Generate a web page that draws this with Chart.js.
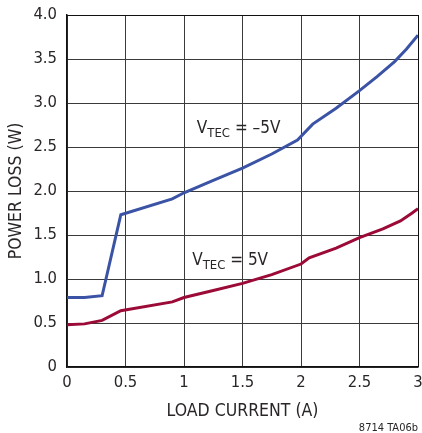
<!DOCTYPE html>
<html>
<head>
<meta charset="utf-8">
<script src="https://cdn.jsdelivr.net/npm/chart.js@4.4.1/dist/chart.umd.min.js"></script>
<style>
  html, body { margin: 0; padding: 0; background: #fff; }
  #wrap { width: 422px; height: 433px; position: relative; }
</style>
</head>
<body>
<div id="wrap"><canvas id="myChart" width="422" height="433"></canvas></div>
<script>
(function(){
    "use strict";

    // load current (A) and power loss (W)
    var currentNeg = [0, 0.15, 0.3, 0.46, 0.9, 1.0, 1.25, 1.5, 1.75, 1.97, 2.1, 2.3, 2.5, 2.65, 2.8, 2.9, 3.0];
    var lossNeg    = [0.79, 0.79, 0.81, 1.73, 1.91, 1.98, 2.12, 2.26, 2.42, 2.58, 2.76, 2.94, 3.14, 3.30, 3.47, 3.61, 3.77];
    var currentPos = [0, 0.15, 0.3, 0.46, 0.9, 1.0, 1.25, 1.5, 1.75, 2.0, 2.07, 2.3, 2.5, 2.7, 2.85, 2.95, 3.0];
    var lossPos    = [0.48, 0.49, 0.53, 0.64, 0.74, 0.79, 0.87, 0.95, 1.05, 1.17, 1.24, 1.35, 1.47, 1.57, 1.66, 1.75, 1.80];

    var xTickLabels = ['0', '0.5', '1', '1.5', '2', '2.5', '3'];
    var yTickLabels = ['0', '0.5', '1.0', '1.5', '2.0', '2.5', '3.0', '3.5', '4.0'];

    var FONT = "'Liberation Sans Narrow', 'DejaVu Sans Condensed', sans-serif";
    var TEXT = '#2a2627';

    function points(xs, ys){
        return xs.map(function(x, i){ return {x: x, y: ys[i]}; });
    }

    // V_TEC labels with subscript, anchored in data coordinates
    var labels = [
        {x: 1.11, y: 2.66, value: ' = \u20135V'},
        {x: 1.07, y: 1.16, value: ' = 5V'}
    ];

    var textPlugin = {
        id: 'textPlugin',
        afterDraw: function(chart){
            var ctx = chart.ctx;
            var xs = chart.scales.x, ys = chart.scales.y;
            ctx.save();
            ctx.fillStyle = TEXT;
            ctx.textBaseline = 'alphabetic';
            ctx.textAlign = 'left';
            labels.forEach(function(l){
                var px = xs.getPixelForValue(l.x);
                var py = ys.getPixelForValue(l.y);
                ctx.font = '17px ' + FONT;
                ctx.fillText('V', px, py);
                px += ctx.measureText('V').width;
                ctx.font = '13px ' + FONT;
                ctx.fillText('TEC', px, py + 4);
                px += ctx.measureText('TEC').width;
                ctx.font = '17px ' + FONT;
                ctx.fillText(l.value, px, py);
            });
            ctx.font = '11px ' + FONT;
            ctx.textAlign = 'right';
            ctx.fillText('8714 TA06b', 418, 431);
            ctx.restore();
        }
    };

    var ctx = document.getElementById('myChart').getContext('2d');
    var myChart = new Chart(ctx, {
        type: 'line',
        data: {
            datasets: [{
                label: 'VTEC = -5V',
                data: points(currentNeg, lossNeg),
                borderColor: '#3a53a5',
                borderWidth: 3,
                pointRadius: 0,
                tension: 0,
                fill: false
            }, {
                label: 'VTEC = 5V',
                data: points(currentPos, lossPos),
                borderColor: '#9c0b38',
                borderWidth: 3,
                pointRadius: 0,
                tension: 0,
                fill: false
            }]
        },
        options: {
            responsive: false,
            animation: false,
            layout: { padding: { top: 15, right: 4, left: 0, bottom: 0 } },
            plugins: {
                legend: { display: false },
                tooltip: { enabled: false }
            },
            scales: {
                x: {
                    type: 'linear',
                    min: 0,
                    max: 3,
                    afterFit: function(s){
                        s.height = 66;
                        s.paddingLeft = 0;
                        s.paddingRight = 0;
                    },
                    afterBuildTicks: function(s){
                        s.ticks = xTickLabels.map(function(t){ return {value: parseFloat(t)}; });
                    },
                    ticks: {
                        padding: 6,
                        maxRotation: 0,
                        autoSkip: false,
                        color: TEXT,
                        font: { family: FONT, size: 16.5 },
                        callback: function(v, i){ return xTickLabels[i]; }
                    },
                    grid: {
                        drawTicks: false,
                        color: function(c){ return c.tick && c.tick.value === 3 ? '#111' : '#3a3a3a'; },
                        lineWidth: 1
                    },
                    border: { display: true, color: '#111', width: 1.5 },
                    title: {
                        display: true,
                        text: 'LOAD CURRENT (A)',
                        color: TEXT,
                        font: { family: FONT, size: 17.5 },
                        padding: { top: 0, bottom: 11 }
                    }
                },
                y: {
                    type: 'linear',
                    min: 0,
                    max: 4,
                    afterFit: function(s){
                        s.width = 67;
                        s.paddingTop = 0;
                        s.paddingBottom = 0;
                    },
                    afterBuildTicks: function(s){
                        s.ticks = yTickLabels.map(function(t){ return {value: parseFloat(t)}; });
                    },
                    ticks: {
                        padding: 10,
                        autoSkip: false,
                        color: TEXT,
                        font: { family: FONT, size: 16.5 },
                        callback: function(v, i){ return yTickLabels[i]; }
                    },
                    grid: {
                        drawTicks: false,
                        color: function(c){ return c.tick && c.tick.value === 4 ? '#111' : '#3a3a3a'; },
                        lineWidth: 1
                    },
                    border: { display: true, color: '#111', width: 1.5 },
                    title: {
                        display: true,
                        text: 'POWER LOSS (W)',
                        color: TEXT,
                        font: { family: FONT, size: 17.5 },
                        padding: { top: 6, bottom: 0 }
                    }
                }
            }
        },
        plugins: [textPlugin]
    });
})();
</script>
</body>
</html>
